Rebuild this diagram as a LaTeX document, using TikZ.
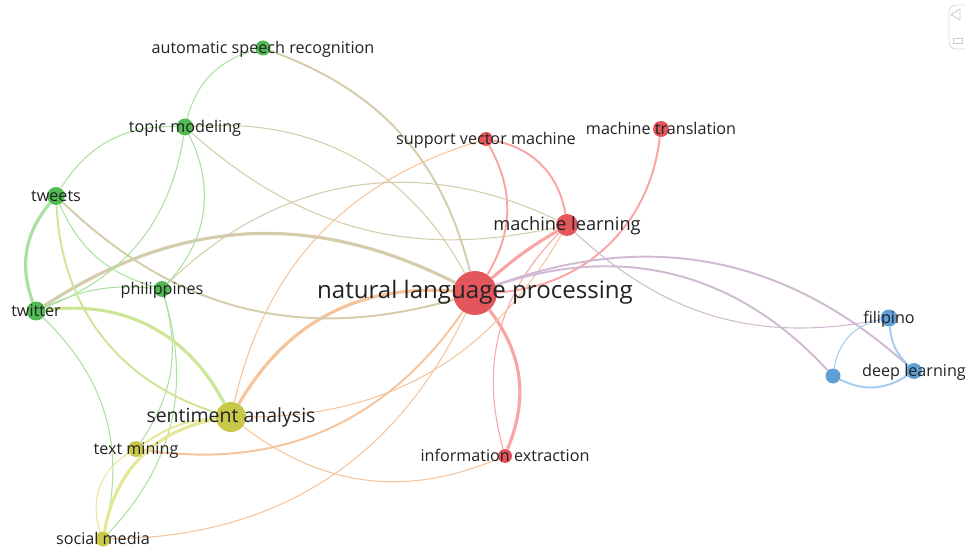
\documentclass[tikz,border=0pt]{standalone}
\usepackage{fontspec}
\setmainfont{Open Sans}
\usepackage{xcolor}
\usetikzlibrary{backgrounds}

% cluster colours
\definecolor{cred}{RGB}{226,86,92}
\definecolor{cgreen}{RGB}{82,186,82}
\definecolor{cyellow}{RGB}{199,200,72}
\definecolor{cblue}{RGB}{94,160,214}
% link colours
\definecolor{lred}{RGB}{249,165,165}
\definecolor{lgreen}{RGB}{172,224,160}
\definecolor{lyellow}{RGB}{228,232,150}
\definecolor{lblue}{RGB}{165,203,240}
\definecolor{lolive}{RGB}{212,204,170}
\definecolor{lorange}{RGB}{246,196,155}
\definecolor{llime}{RGB}{204,230,150}
\definecolor{lpurple}{RGB}{208,186,210}
\definecolor{txt}{RGB}{34,34,34}

\begin{document}
\begin{tikzpicture}[x=0.02cm, y=0.02cm,
    kw/.style={circle, inner sep=0pt, minimum size=#1*0.02cm},
    lbl/.style={text=txt, inner sep=0pt, text height=1.6ex, text depth=0.45ex,
                font=\fontsize{9.2}{11}\selectfont},
    link/.style={line width=0.6pt},
    link2/.style={line width=1.1pt},
    link3/.style={line width=1.8pt}
]
\useasboundingbox (0,0) rectangle (966,548);

% keywords
\node[kw=44, fill=cred] (nlp) at (475,255) {};
\node[kw=22, fill=cred] (ml) at (567,323) {};
\node[kw=14, fill=cred] (svm) at (486,409) {};
\node[kw=16, fill=cred] (mt) at (661,419) {};
\node[kw=14, fill=cred] (ie) at (505,92) {};
\node[kw=15, fill=cgreen] (asr) at (263,500) {};
\node[kw=17, fill=cgreen] (topic) at (185,421) {};
\node[kw=18, fill=cgreen] (tweets) at (56,352) {};
\node[kw=19, fill=cgreen] (twitter) at (36,237) {};
\node[kw=16, fill=cgreen] (phil) at (162,259) {};
\node[kw=30, fill=cyellow] (sa) at (231,131) {};
\node[kw=16, fill=cyellow] (tm) at (136,99) {};
\node[kw=15, fill=cyellow] (sm) at (103,9) {};
\node[kw=17, fill=cblue] (fil) at (889,230) {};
\node[kw=16, fill=cblue] (deep) at (914,177) {};
\node[kw=15, fill=cblue] (bnode) at (833,172) {};

% labels
\node[lbl, font=\fontsize{13.7}{16}\selectfont] (nlp-t) at (nlp) {natural language processing};
\node[lbl, font=\fontsize{10.4}{12}\selectfont] (ml-t) at (ml) {machine learning};
\node[lbl] (svm-t) at (svm) {support vector machine};
\node[lbl] (mt-t) at (mt) {machine translation};
\node[lbl] (ie-t) at (ie) {information extraction};
\node[lbl] (asr-t) at (asr) {automatic speech recognition};
\node[lbl] (topic-t) at (topic) {topic modeling};
\node[lbl] (tweets-t) at (tweets) {tweets};
\node[lbl] (twitter-t) at (twitter) {twitter};
\node[lbl] (phil-t) at (phil) {philippines};
\node[lbl, font=\fontsize{11.1}{13}\selectfont] (sa-t) at (sa) {sentiment analysis};
\node[lbl] (tm-t) at (tm) {text mining};
\node[lbl] (sm-t) at (sm) {social media};
\node[lbl] (fil-t) at (fil) {filipino};
\node[lbl] (deep-t) at (deep) {deep learning};

\begin{scope}[on background layer]
% red cluster
\draw[link3, lred] (nlp) to[bend left=5] (ml);
\draw[link2, lred] (nlp) to[bend right=30] (svm);
\draw[link2, lred] (svm) to[bend left=35] (ml);
\draw[link2, lred] (mt) to[bend left=40] (nlp);
\draw[link3, lred] (nlp) to[bend left=30] (ie);
\draw[link, lred] (ml) to[bend right=30] (ie);
% red - yellow
\draw[link, lorange] (svm) to[bend right=30] (sa);
\draw[link3, lorange] (sa) to[bend left=32] (nlp);
\draw[link, lorange] (sa) to[bend right=30] (ml);
\draw[link2, lorange] (tm) to[bend right=32] (nlp);
\draw[link, lorange] (sm) to[bend right=32] (nlp);
\draw[link, lorange] (sa) to[bend right=30] (ie);
% red - green
\draw[link2, lolive] (asr) to[bend left=28] (nlp);
\draw[link, lolive] (topic) to[bend left=33] (nlp);
\draw[link, lolive] (topic) to[bend right=27] (ml);
\draw[link2, lolive] (tweets) to[bend right=30] (nlp);
\draw[link3, lolive] (twitter) to[bend left=30] (nlp);
\draw[link, lolive] (phil) to[bend left=35] (ml);
% green cluster
\draw[link, lgreen] (asr) to[bend right=30] (topic);
\draw[link, lgreen] (topic) to[bend right=30] (tweets);
\draw[link, lgreen] (topic) to[bend left=30] (twitter);
\draw[link, lgreen] (topic) to[bend left=35] (phil);
\draw[link3, lgreen] (tweets) to[bend right=30] (twitter);
\draw[link, lgreen] (tweets) to[bend right=25] (phil);
\draw[link, lgreen] (twitter) to[bend left=15] (phil);
\draw[link, lgreen] (twitter) to[bend left=30] (sm);
\draw[link, lgreen] (phil) to[bend left=25] (tm);
\draw[link, lgreen] (phil) to[bend left=30] (sm);
% green - yellow
\draw[link3, llime] (twitter) to[bend left=35] (sa);
\draw[link2, llime] (tweets) to[bend right=35] (sa);
% yellow cluster
\draw[link3, lyellow] (sa) to[bend right=35] (sm);
\draw[link2, lyellow] (sa) to[bend right=15] (tm);
\draw[link, lyellow] (tm) to[bend right=40] (sm);
% red - blue
\draw[link, lpurple] (ml) to[bend right=27] (fil);
\draw[link2, lpurple] (nlp) to[bend left=31] (deep);
\draw[link2, lpurple] (nlp) to[bend left=33] (bnode);
% blue cluster
\draw[link2, lblue] (fil) to[bend right=20] (deep);
\draw[link, lblue] (fil) to[bend right=35] (bnode);
\draw[link2, lblue] (bnode) to[bend right=30] (deep);
\end{scope}

% side panel
\draw[gray!30, line width=0.5pt, rounded corners=4pt] (975,543) -- (949,543) -- (949,499) -- (975,499);
\draw[gray!40, line width=0.5pt] (960,539) -- (960,528) -- (951,533.5) -- cycle;
\draw[gray!40, line width=0.5pt] (953,510) rectangle (962,505);
\end{tikzpicture}
\end{document}
